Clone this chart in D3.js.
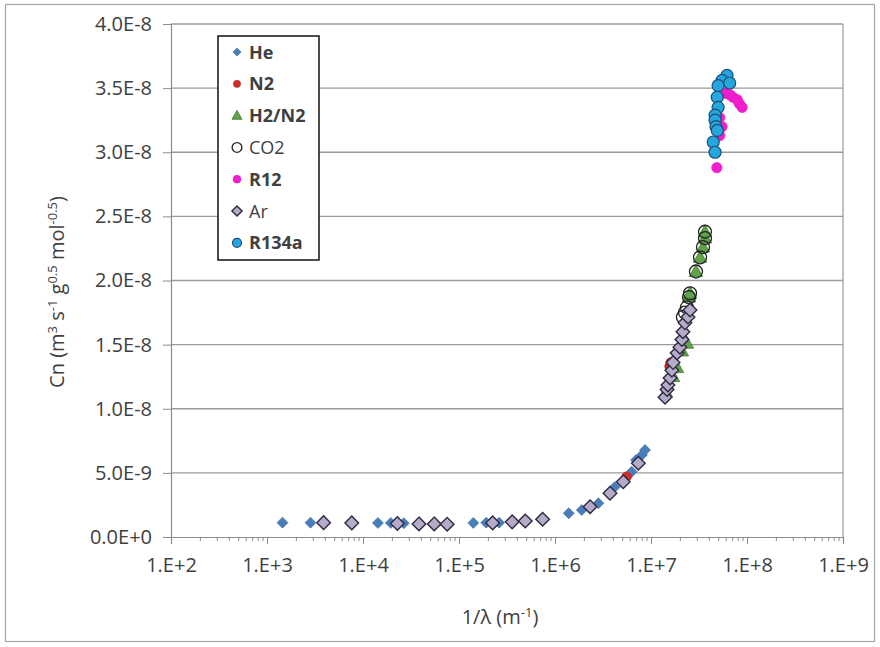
<!DOCTYPE html>
<html><head><meta charset="utf-8">
<script src="https://cdn.jsdelivr.net/npm/d3@7"></script>
<style>
body{margin:0;background:#fff}
svg{display:block}
text{font-family:"Open Sans",sans-serif;fill:#404040}
</style>
</head><body>
<svg id="c" width="880" height="647"></svg>
<script>
// ---- data ----
const seriesNames = ["He","N2","H2/N2","CO2","R12","Ar","R134a"];
const heX = [1.45e3,2.84e3,3.9e3,7.6e3,1.43e4,1.95e4,2.66e4,1.41e5,1.92e5,2.62e5,1.39e6,1.9e6,2.83e6,4.2e6,6.3e6,6.98e6,8.05e6,8.66e6];
const heY = [1.12e-9,1.12e-9,1.12e-9,1.1e-9,1.1e-9,1.1e-9,1.08e-9,1.1e-9,1.12e-9,1.12e-9,1.85e-9,2.1e-9,2.63e-9,3.9e-9,5.09e-9,6.0e-9,6.4e-9,6.78e-9];
const n2X = [5.5e4,7.5e4,2.24e5,3.6e5,4.9e5,7.4e5,5.58e6,1.56e7,1.6e7];
const n2Y = [1.03e-9,1.0e-9,1.1e-9,1.2e-9,1.27e-9,1.4e-9,4.7e-9,1.33e-8,1.36e-8];
const h2n2X = [1.43e7,1.7e7,1.87e7,2.1e7,2.37e7,2.49e7,2.55e7,2.94e7,3.24e7,3.48e7,3.65e7,3.65e7];
const h2n2Y = [1.13e-8,1.25e-8,1.32e-8,1.45e-8,1.51e-8,1.87e-8,1.9e-8,2.07e-8,2.18e-8,2.26e-8,2.33e-8,2.38e-8];
const co2X = [2.15e7,2.26e7,2.37e7,2.49e7,2.55e7,2.94e7,3.24e7,3.48e7,3.65e7,3.65e7];
const co2Y = [1.715e-8,1.75e-8,1.79e-8,1.87e-8,1.9e-8,2.07e-8,2.18e-8,2.26e-8,2.33e-8,2.38e-8];
const r12X = [4.85e7,5.2e7,5.2e7,5.5e7,5.9e7,6.6e7,7.1e7,7.9e7,8.3e7,8.9e7];
const r12Y = [2.88e-8,3.27e-8,3.13e-8,3.2e-8,3.46e-8,3.45e-8,3.43e-8,3.41e-8,3.38e-8,3.35e-8];
const arX = [3.89e3,7.64e3,2.28e4,3.83e4,5.52e4,7.53e4,2.24e5,3.58e5,4.9e5,7.43e5,2.32e6,3.74e6,5.14e6,7.38e6,1.4e7,1.47e7,1.5e7,1.58e7,1.65e7,1.7e7,1.87e7,2.0e7,2.1e7,2.15e7,2.26e7,2.43e7,2.55e7];
const arY = [1.12e-9,1.1e-9,1.05e-9,1.02e-9,1.02e-9,1.0e-9,1.1e-9,1.18e-9,1.25e-9,1.38e-9,2.36e-9,3.41e-9,4.31e-9,5.75e-9,1.09e-8,1.15e-8,1.185e-8,1.24e-8,1.3e-8,1.36e-8,1.435e-8,1.48e-8,1.54e-8,1.6e-8,1.67e-8,1.715e-8,1.77e-8];
const r134aX = [6.2e7,5.5e7,6.6e7,5.0e7,4.9e7,5.0e7,4.65e7,4.65e7,4.75e7,4.9e7,4.45e7,4.65e7];
const r134aY = [3.6e-8,3.56e-8,3.54e-8,3.52e-8,3.43e-8,3.35e-8,3.29e-8,3.25e-8,3.2e-8,3.17e-8,3.08e-8,3.0e-8];
const xTickValues = [1e2,1e3,1e4,1e5,1e6,1e7,1e8,1e9];
const xTickLabels = ["1.E+2","1.E+3","1.E+4","1.E+5","1.E+6","1.E+7","1.E+8","1.E+9"];
const yTickValues = [0,5e-9,1e-8,1.5e-8,2e-8,2.5e-8,3e-8,3.5e-8,4e-8];
const yTickLabels = ["0.0E+0","5.0E-9","1.0E-8","1.5E-8","2.0E-8","2.5E-8","3.0E-8","3.5E-8","4.0E-8"];

// ---- layout ----
const L=171,R=843,T=24,B=537;
const svg=d3.select('#c');
svg.append('rect').attr('x',5.5).attr('y',4.5).attr('width',869).attr('height',637)
  .attr('fill','#fff').attr('stroke','#a6a6a6').attr('stroke-width',1.2);

const x=d3.scaleLog().domain([1e2,1e9]).range([L,R]);
const y=d3.scaleLinear().domain([0,4e-8]).range([B,T]);

// gridlines
svg.append('g').selectAll('line').data(yTickValues.filter(d=>d>0)).join('line')
  .attr('x1',L).attr('x2',R).attr('y1',d=>y(d)).attr('y2',d=>y(d))
  .attr('stroke','#9a9a9a').attr('stroke-width',1.4);
svg.append('line').attr('x1',R).attr('x2',R).attr('y1',T).attr('y2',B)
  .attr('stroke','#9a9a9a').attr('stroke-width',1.2);

// y axis
const yAx=svg.append('g').attr('transform',`translate(${L},0)`)
  .call(d3.axisLeft(y).tickValues(yTickValues).tickFormat((d,i)=>yTickLabels[i]).tickSize(8).tickPadding(11));
yAx.select('.domain').attr('stroke','#8c8c8c').attr('stroke-width',1.2);
yAx.selectAll('.tick line').attr('stroke','#8c8c8c');
yAx.selectAll('text').attr('font-size',20).attr('fill','#404040').style('font-family','"Open Sans",sans-serif');

// x axis minor ticks
const minor=[];
for(let e=2;e<9;e++){for(let k=2;k<10;k++){minor.push(k*Math.pow(10,e));}}
const xMin=svg.append('g').attr('transform',`translate(0,${B})`)
  .call(d3.axisBottom(x).tickValues(minor).tickFormat('').tickSize(4));
xMin.select('.domain').remove();
xMin.selectAll('.tick line').attr('stroke','#8c8c8c');
const xAx=svg.append('g').attr('transform',`translate(0,${B})`)
  .call(d3.axisBottom(x).tickValues(xTickValues).tickFormat((d,i)=>xTickLabels[i]).tickSize(7).tickPadding(14));
xAx.select('.domain').attr('stroke','#8c8c8c').attr('stroke-width',1.2);
xAx.selectAll('.tick line').attr('stroke','#8c8c8c');
xAx.selectAll('text').attr('font-size',20).attr('fill','#404040').style('font-family','"Open Sans",sans-serif');

// axis titles
const yt=svg.append('text').attr('transform','translate(64,292) rotate(-90)')
  .attr('text-anchor','middle').attr('font-size',20);
yt.append('tspan').text('Cn (m');
yt.append('tspan').text('3').attr('font-size',13).attr('dy',-7);
yt.append('tspan').text(' s').attr('dy',7);
yt.append('tspan').text('-1').attr('font-size',13).attr('dy',-7);
yt.append('tspan').text(' g').attr('dy',7);
yt.append('tspan').text('0.5').attr('font-size',13).attr('dy',-7);
yt.append('tspan').text(' mol').attr('dy',7);
yt.append('tspan').text('-0.5').attr('font-size',13).attr('dy',-7);
yt.append('tspan').text(')').attr('dy',7);

const xt=svg.append('text').attr('x',500).attr('y',624).attr('text-anchor','middle').attr('font-size',20);
xt.append('tspan').text('1/λ (m');
xt.append('tspan').text('-1').attr('font-size',13).attr('dy',-7);
xt.append('tspan').text(')').attr('dy',7);

// markers
const diamond=r=>`M0,${-r}L${r},0L0,${r}L${-r},0Z`;
const tri=r=>`M0,${-r}L${r*0.95},${r*0.7}L${-r*0.95},${r*0.7}Z`;
const styles={
  "He":{path:diamond(5.5),fill:'#4a7ebb',stroke:'#3d6aa3',sw:0.6},
  "N2":{circle:4.8,fill:'#d42b2b',stroke:'#b02020',sw:0.6},
  "H2/N2":{path:tri(7),fill:'#5fa448',stroke:'#3f7a2f',sw:0.8},
  "CO2":{circle:6.5,fill:'none',stroke:'#222',sw:1.3},
  "R12":{circle:5.2,fill:'#f21ed0',stroke:'#e010c0',sw:0.6},
  "Ar":{path:diamond(6.8),fill:'#b5aac8',stroke:'#2e2940',sw:1.4},
  "R134a":{circle:6,fill:'#25a6dd',stroke:'#1c4f7a',sw:1.2}
};
const data={"He":[heX,heY],"N2":[n2X,n2Y],"H2/N2":[h2n2X,h2n2Y],"CO2":[co2X,co2Y],"R12":[r12X,r12Y],"Ar":[arX,arY],"R134a":[r134aX,r134aY]};
function drawMarker(g,s,scale){
  if(s.circle){g.append('circle').attr('r',s.circle*scale).attr('fill',s.fill).attr('stroke',s.stroke).attr('stroke-width',s.sw);}
  else{g.append('path').attr('d',s.path).attr('transform',`scale(${scale})`).attr('fill',s.fill).attr('stroke',s.stroke).attr('stroke-width',s.sw/scale);}
}
seriesNames.forEach(n=>{
  const [xs,ys]=data[n];
  const pts=xs.map((v,i)=>[v,ys[i]]);
  const g=svg.append('g');
  pts.forEach(p=>{
    const m=g.append('g').attr('transform',`translate(${x(p[0])},${y(p[1])})`);
    drawMarker(m,styles[n],1);
  });
});

// legend
const lg=svg.append('g');
lg.append('rect').attr('x',218).attr('y',36).attr('width',101).attr('height',224)
  .attr('fill','#fff').attr('stroke','#111').attr('stroke-width',1.5);
const bold={"He":true,"N2":true,"H2/N2":true,"CO2":false,"R12":true,"Ar":false,"R134a":true};
seriesNames.forEach((n,i)=>{
  const cy=52+i*31.8;
  const m=lg.append('g').attr('transform',`translate(237,${cy})`);
  drawMarker(m,styles[n],0.75);
  lg.append('text').attr('x',249).attr('y',cy+6.5).attr('font-size',18)
    .attr('font-weight',bold[n]?'bold':'normal').attr('fill','#1a1a1a').text(n);
});
</script>
</body></html>
